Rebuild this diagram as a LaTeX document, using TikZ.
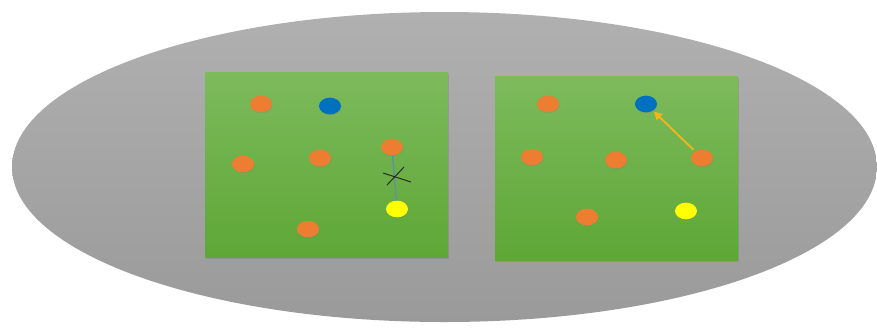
\documentclass[tikz,border=0pt]{standalone}
\usetikzlibrary{shapes.geometric,shadows,arrows.meta}

\definecolor{bgtop}{HTML}{B0B0B0}
\definecolor{bgbot}{HTML}{9A9A9A}
\definecolor{fieldtop}{HTML}{7DBA5C}
\definecolor{fieldbot}{HTML}{5EA736}
\definecolor{dotorange}{HTML}{ED7D31}
\definecolor{dotblue}{HTML}{0070C0}
\definecolor{dotyellow}{HTML}{FFFF00}
\definecolor{linkblue}{HTML}{5B8FAE}
\definecolor{movegold}{HTML}{F2B51C}

\tikzset{
  field/.style={top color=fieldtop, bottom color=fieldbot, draw=none,
    drop shadow={shadow xshift=0.8pt, shadow yshift=-1.5pt, opacity=0.4}},
  dot/.style={ellipse, minimum width=0.66cm, minimum height=0.5cm, inner sep=0pt,
    draw=none, drop shadow={shadow xshift=0.4pt, shadow yshift=-0.8pt, opacity=0.3}},
  ant/.style={dot, fill=dotorange},
  food/.style={dot, fill=dotblue},
  nest/.style={dot, fill=dotyellow},
}

\begin{document}
\begin{tikzpicture}[x=0.03cm, y=-0.03cm]
    \useasboundingbox (0,0) rectangle (877,327);
    % background
    \shade[top color=bgtop, bottom color=bgbot] (444.5,167) ellipse [x radius=432.5, y radius=155];

    % left field
    \path[field] (205,72) rectangle (448,257);
    \node[ant]  (la1) at (261,104) {};
    \node[food] (lb)  at (330,106) {};
    \node[ant]  (la2) at (392,147) {};
    \node[ant]  (la3) at (243,164) {};
    \node[ant]  (la4) at (320,158) {};
    \node[nest] (ly)  at (397,209) {};
    \node[ant]  (la5) at (308,229) {};
    \draw[linkblue, line width=1.1pt] (la2) -- (ly);
    \coordinate (cut) at (394,177);
    \draw[black!85, line width=0.8pt] (cut) ++(-11,-4) -- ++(28,9);
    \draw[black!85, line width=0.8pt] (cut) ++(10,-10) -- ++(-17,18);

    % right field
    \path[field] (495,76) rectangle (738,260);
    \node[ant]  (ra1) at (548,104) {};
    \node[food] (rb)  at (646,104) {};
    \node[ant]  (ra2) at (532,157) {};
    \node[ant]  (ra3) at (616,160) {};
    \node[ant]  (ra4) at (702,158) {};
    \node[nest] (ry)  at (686,211) {};
    \node[ant]  (ra5) at (587,217) {};
    \draw[movegold, line width=1.6pt, -{Triangle[length=7pt,width=7pt]}, shorten <=2pt, shorten >=1pt] (ra4) -- (rb);
\end{tikzpicture}
\end{document}
